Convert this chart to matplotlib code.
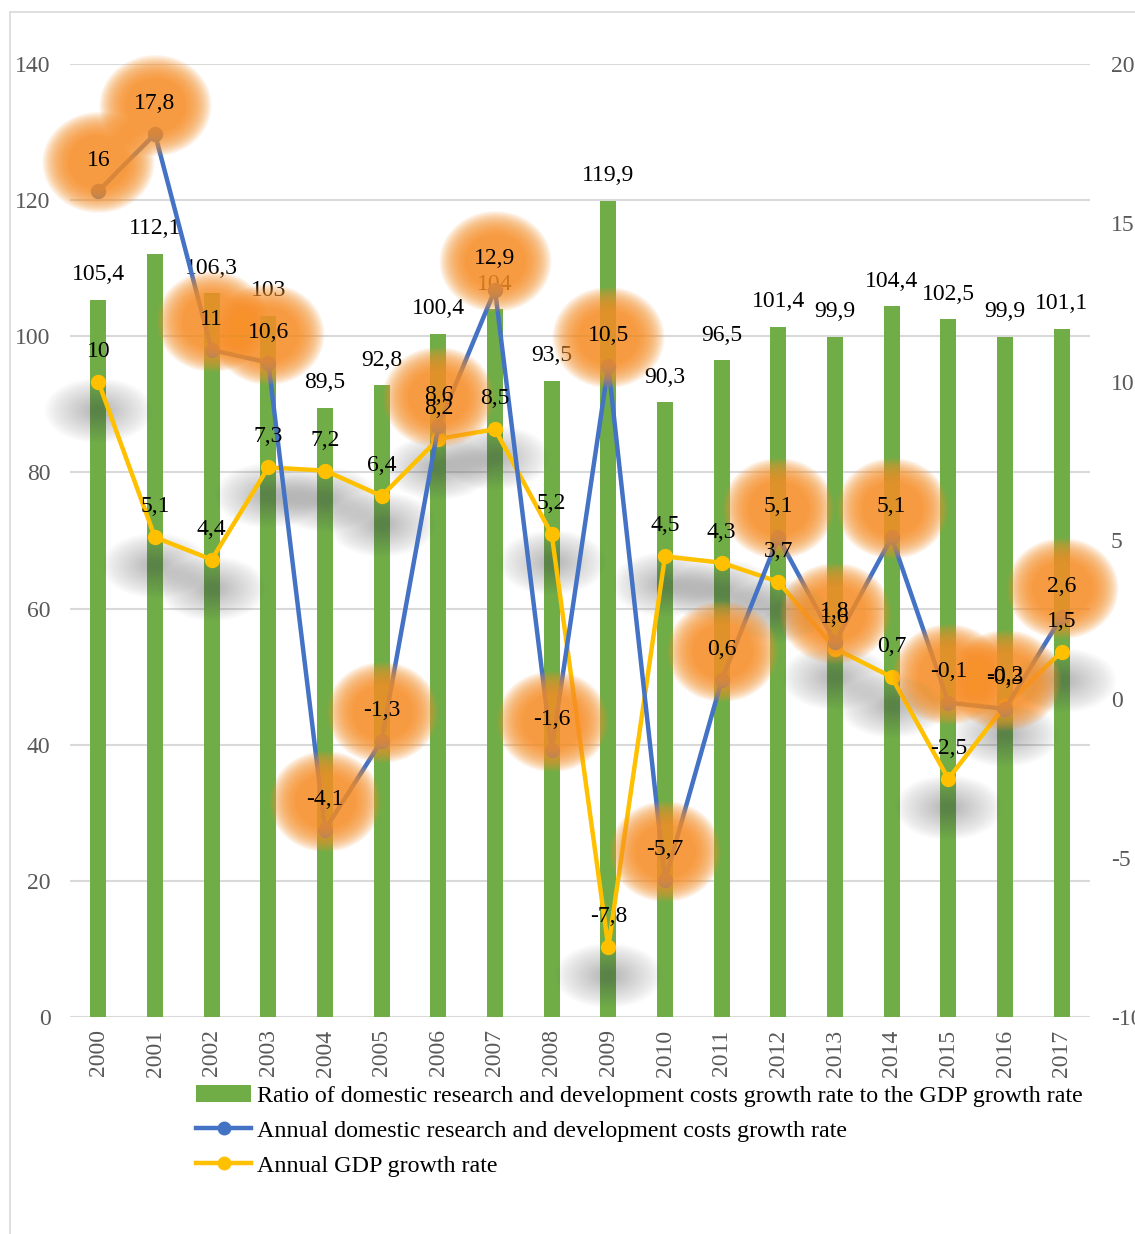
import matplotlib
matplotlib.use("Agg")
import matplotlib.pyplot as plt
import numpy as np
from matplotlib.path import Path
from matplotlib.transforms import Affine2D, offset_copy
from matplotlib.lines import Line2D
from matplotlib.patches import Patch, Rectangle

years = ["2000", "2001", "2002", "2003", "2004", "2005", "2006", "2007", "2008",
         "2009", "2010", "2011", "2012", "2013", "2014", "2015", "2016", "2017"]
ratio = [105.4, 112.1, 106.3, 103, 89.5, 92.8, 100.4, 104, 93.5,
         119.9, 90.3, 96.5, 101.4, 99.9, 104.4, 102.5, 99.9, 101.1]
rd_growth = [16, 17.8, 11, 10.6, -4.1, -1.3, 8.6, 12.9, -1.6,
             10.5, -5.7, 0.6, 5.1, 1.8, 5.1, -0.1, -0.3, 2.6]
gdp_growth = [10, 5.1, 4.4, 7.3, 7.2, 6.4, 8.2, 8.5, 5.2,
              -7.8, 4.5, 4.3, 3.7, 1.6, 0.7, -2.5, -0.2, 1.5]
left_ticks = [0, 20, 40, 60, 80, 100, 120, 140]
right_ticks = [-10, -5, 0, 5, 10, 15, 20]
legend_labels = ["Ratio of domestic research and development costs growth rate to the GDP growth rate",
                 "Annual domestic research and development costs growth rate",
                 "Annual GDP growth rate"]

GREEN = "#70AD47"
BLUE = "#4472C4"
YELLOW = "#FFC000"
ORANGE = "#F7912A"
GRAY_TXT = "#595959"

plt.rcParams['font.family'] = ['Liberation Serif', 'DejaVu Serif']
FS = 17

def fmt(v):
    return f"{v:g}".replace('.', ',')

W, H = 1135, 1234
fig = plt.figure(figsize=(W / 100, H / 100), dpi=100)
fig.patch.set_facecolor("white")
# outer frame
fig.patches.append(Rectangle((10 / W, -0.1), 1.2, 1 - 12 / H + 0.1, transform=fig.transFigure,
                             fill=False, edgecolor="#D9D9D9", linewidth=1.2))

ax = fig.add_axes([70 / W, 1 - 1017 / H, 1020 / W, (1017 - 64) / H])
x = np.arange(len(years))
ax.bar(x, ratio, width=0.28, color=GREEN, zorder=2)
ax.set_xlim(-0.5, len(years) - 0.5)
ax.set_ylim(0, 140)
ax.set_yticks(left_ticks)
ax.set_yticklabels([str(t) for t in left_ticks], fontsize=FS, color=GRAY_TXT)
ax.set_xticks(x)
ax.set_xticklabels(years, rotation=90, fontsize=FS, color=GRAY_TXT)
ax.tick_params(axis='both', length=0)
ax.tick_params(axis='y', pad=14)
ax.tick_params(axis='x', pad=9)
ax.grid(axis='y', color="#D9D9D9", linewidth=1.5, zorder=0)
ax.set_axisbelow(True)
for s in ax.spines.values():
    s.set_visible(False)

for xi, v in zip(x, ratio):
    ax.annotate(fmt(v), (xi, v), xytext=(0, 18), textcoords='offset points',
                ha='center', va='center', fontsize=FS, color='black', zorder=5)

ax2 = ax.twinx()
ax2.set_ylim(-10, 20)
ax2.set_yticks(right_ticks)
ax2.set_yticklabels([str(t) for t in right_ticks], fontsize=FS, color=GRAY_TXT)
ax2.tick_params(axis='y', length=0, pad=15)
for s in ax2.spines.values():
    s.set_visible(False)

circ = Path.unit_circle()

# soft shadows under GDP markers
ell = Path(Affine2D().scale(1.0, 0.6).transform(circ.vertices), circ.codes)
shadow_tr = offset_copy(ax2.transData, fig=fig, x=0, y=-28, units='dots')
for r in np.linspace(54, 6, 22):
    ax2.scatter(x, gdp_growth, s=(2 * r * 0.72) ** 2, marker=ell, color="#555555",
                alpha=0.019, linewidths=0, transform=shadow_tr, zorder=2.5, clip_on=False)

ax2.plot(x, gdp_growth, color=YELLOW, linewidth=3.2, marker='o', markersize=10,
         zorder=3.0, solid_capstyle='round')
ax2.plot(x, rd_growth, color=BLUE, linewidth=3.2, marker='o', markersize=10,
         zorder=3.2, solid_capstyle='round')

# orange glow around R&D labels
gell = Path(Affine2D().scale(1.0, 0.9).transform(circ.vertices), circ.codes)
glow_tr = offset_copy(ax2.transData, fig=fig, x=0, y=29, units='dots')
for r in np.linspace(56, 30, 22):
    ax2.scatter(x, rd_growth, s=(2 * r * 0.72) ** 2, marker=gell, color=ORANGE,
                alpha=0.085, linewidths=0, transform=glow_tr, zorder=4, clip_on=False)

for xi, v in zip(x, rd_growth):
    ax2.annotate(fmt(v), (xi, v), xytext=(0, 22), textcoords='offset points',
                 ha='center', va='center', fontsize=FS, color='black', zorder=6)
for xi, v in zip(x, gdp_growth):
    ax2.annotate(fmt(v), (xi, v), xytext=(0, 22), textcoords='offset points',
                 ha='center', va='center', fontsize=FS, color='black', zorder=6)

handles = [Patch(facecolor=GREEN, edgecolor='none'),
           Line2D([], [], color=BLUE, linewidth=3.2, marker='o', markersize=9),
           Line2D([], [], color=YELLOW, linewidth=3.2, marker='o', markersize=9)]
fig.legend(handles, legend_labels, loc='upper left', bbox_to_anchor=(196 / W, 1 - 1085 / H),
           frameon=False, fontsize=17.3, handlelength=2.3, handletextpad=0.25,
           labelspacing=0.55, borderaxespad=0, borderpad=0)

fig.savefig("out.png", dpi=100, facecolor="white")
